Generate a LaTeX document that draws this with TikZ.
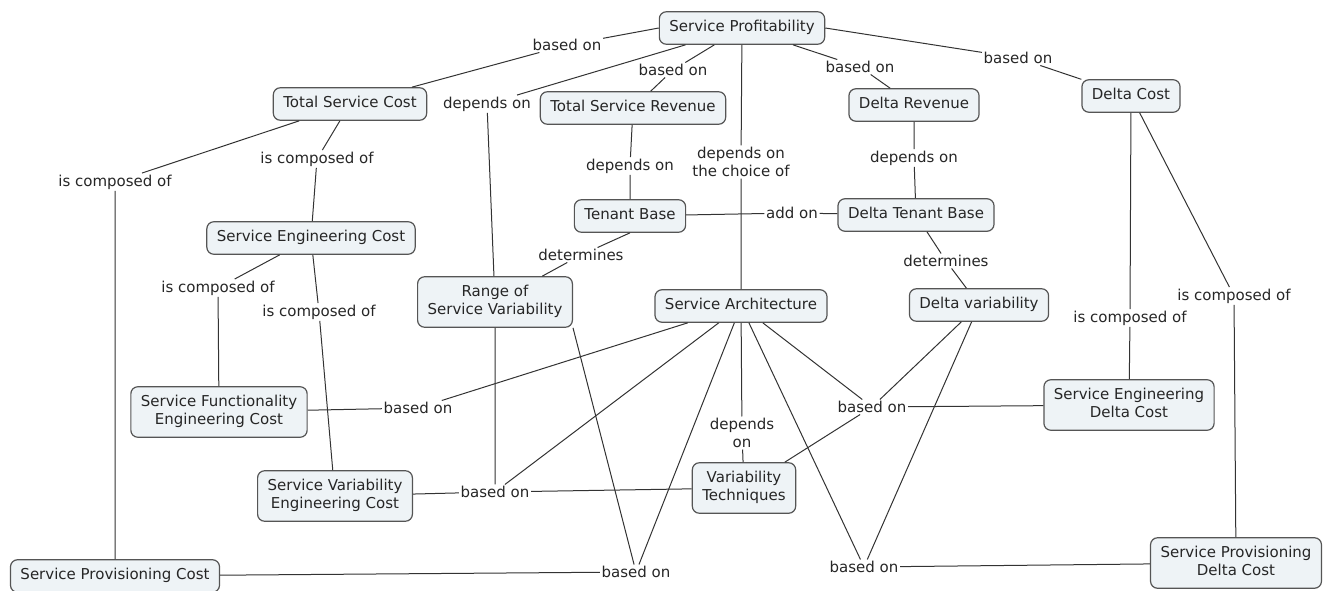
\documentclass[tikz,border=0pt]{standalone}
\usepackage{fontspec}
\setmainfont{DejaVu Sans}
\definecolor{conceptfill}{HTML}{EEF3F6}
\definecolor{conceptdraw}{HTML}{555555}
\definecolor{linkdraw}{HTML}{333333}
\tikzset{
  concept/.style={draw=conceptdraw, line width=1.2pt, fill=conceptfill, rounded corners=7pt,
    inner xsep=10pt, inner ysep=9pt, text height=11pt, text depth=3.5pt, align=center,
    font=\fontsize{15}{18}\selectfont, text=black!85},
  twolines/.style={text height=29pt},
  phrase/.style={inner sep=1.5pt, align=center, font=\fontsize{15}{18}\selectfont, text=black!85},
  link/.style={draw=linkdraw, line width=1pt}
}
\begin{document}
\begin{tikzpicture}[x=1pt, y=-1pt]
    \useasboundingbox (0,0) rectangle (1325,591);

    \node [concept] (sp) at (742,28) {Service Profitability};
    \node [concept] (tsc) at (350,104) {Total Service Cost};
    \node [concept] (tsr) at (633,108) {Total Service Revenue};
    \node [concept] (dr) at (914,105) {Delta Revenue};
    \node [concept] (dc) at (1131,96) {Delta Cost};
    \node [concept] (tb) at (630,216) {Tenant Base};
    \node [concept] (dtb) at (916,215) {Delta Tenant Base};
    \node [concept] (sec) at (311,238) {Service Engineering Cost};
    \node [concept, twolines] (rsv) at (495,302) {Range of\\Service Variability};
    \node [concept] (sa) at (741,306) {Service Architecture};
    \node [concept] (dv) at (979,305) {Delta variability};
    \node [concept, twolines] (sfec) at (219,412) {Service Functionality\\Engineering Cost};
    \node [concept, twolines] (sedc) at (1129,405) {Service Engineering\\Delta Cost};
    \node [concept, twolines] (svec) at (335,496) {Service Variability\\Engineering Cost};
    \node [concept, twolines] (vt) at (744,488) {Variability\\Techniques};
    \node [concept] (spc) at (115,576) {Service Provisioning Cost};
    \node [concept, twolines] (spdc) at (1236,563) {Service Provisioning\\Delta Cost};

    \node [phrase] (lA) at (567,45) {based on};
    \node [phrase] (lB) at (487,104) {depends on};
    \node [phrase] (lC) at (673,70) {based on};
    \node [phrase] (lD) at (741,162) {depends on\\the choice of};
    \node [phrase] (lE) at (860,67) {based on};
    \node [phrase] (lF) at (1018,58) {based on};
    \node [phrase] (lG) at (317,159) {is composed of};
    \node [phrase] (lH) at (115,182) {is composed of};
    \node [phrase] (lI) at (630,166) {depends on};
    \node [phrase] (lJ) at (914,158) {depends on};
    \node [phrase] (lK) at (792,213) {add on};
    \node [phrase] (lL) at (581,255) {determines};
    \node [phrase] (lM) at (946,261) {determines};
    \node [phrase] (lN) at (218,288) {is composed of};
    \node [phrase] (lO) at (319,312) {is composed of};
    \node [phrase] (lP) at (1130,318) {is composed of};
    \node [phrase] (lQ) at (1234,296) {is composed of};
    \node [phrase] (lR) at (418,408) {based on};
    \node [phrase] (lS) at (495,492) {based on};
    \node [phrase] (lT) at (742,433) {depends\\on};
    \node [phrase] (lU) at (872,407) {based on};
    \node [phrase] (lV) at (636,572) {based on};
    \node [phrase] (lW) at (864,567) {based on};

    \draw [link] (sp.west) -- (lA) -- (tsc);
    \draw [link] (sp) -- (lB) -- (rsv);
    \draw [link] (sp) -- (lC) -- (tsr);
    \draw [link] (sp) -- (lD) -- (sa);
    \draw [link] (sp) -- (lE) -- (dr);
    \draw [link] (sp.east) -- (lF) -- (dc);

    \draw [link] (tsc) -- (lG) -- (sec);
    \draw [link] (tsc) -- (lH) -- (spc);
    \draw [link] (tsr) -- (lI) -- (tb);
    \draw [link] (dr) -- (lJ) -- (dtb);
    \draw [link] (tb) -- (lK) -- (dtb);
    \draw [link] (tb.south) -- (lL) -- (rsv);
    \draw [link] (dtb) -- (lM) -- (dv);

    \draw [link] (sec) -- (lN) -- (sfec);
    \draw [link] (sec) -- (lO) -- (svec);
    \draw [link] (dc) -- (lP) -- (sedc);
    \draw [link] (dc) -- (lQ) -- (spdc);

    \draw [link] (sfec) -- (lR) -- (sa);
    \draw [link] (svec) -- (lS) -- (vt);
    \draw [link] (rsv) -- (lS) -- (sa);
    \draw [link] (sa) -- (lT) -- (vt);
    \draw [link] (sa) -- (lU) -- (sedc);
    \draw [link] (dv) -- (lU) -- (vt);
    \draw [link] (spc) -- (lV) -- (sa);
    \draw [link] (rsv.south east) -- (lV);
    \draw [link] (sa) -- (lW) -- (spdc);
    \draw [link] (dv) -- (lW);

\end{tikzpicture}
\end{document}
